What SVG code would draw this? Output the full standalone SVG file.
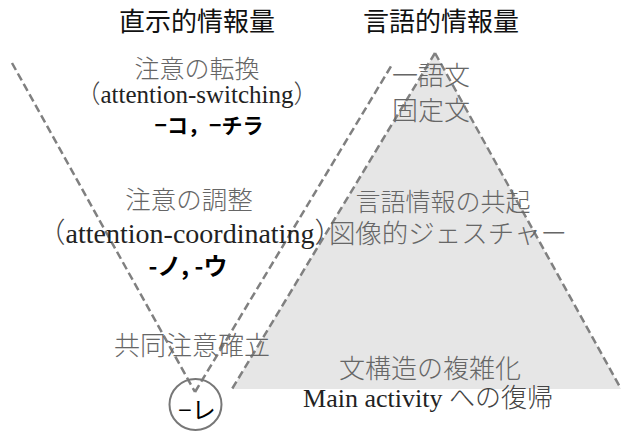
<svg xmlns="http://www.w3.org/2000/svg" width="622" height="432" viewBox="0 0 622 432">
  <style>
    .head { font-family: "Noto Sans CJK JP", sans-serif; font-size: 26px; fill: #111; text-anchor: middle; }
    .jp { font-family: "Noto Sans CJK JP", sans-serif; font-weight: 300; fill: #666; text-anchor: middle; }
    .lat { font-family: "Liberation Serif", "Times New Roman", "DejaVu Serif", serif; fill: #222; text-anchor: middle; }
    .par { font-family: "Noto Sans CJK JP", sans-serif; font-weight: 300; fill: #444; }
    .bold { font-family: "Noto Sans CJK JP", sans-serif; font-weight: bold; fill: #000; text-anchor: middle; }
    .dash { fill: none; stroke: #808080; stroke-width: 2.5; stroke-dasharray: 8 4; }
  </style>
  <rect width="622" height="432" fill="#fff"/>

  <g id="triangle">
    <polygon points="435,53 232,389 621,389" fill="#e6e6e6"/>
  </g>

  <g id="connectors">
    <line class="dash" x1="12" y1="63" x2="195" y2="392"/>
    <line class="dash" x1="195" y1="392" x2="393" y2="63"/>
    <line class="dash" x1="435" y1="53" x2="232" y2="389"/>
    <line class="dash" x1="435" y1="53" x2="621" y2="389"/>
  </g>

  <g id="headers">
    <text class="head" x="197" y="31">直示的情報量</text>
    <text class="head" x="441" y="31">言語的情報量</text>
  </g>

  <g id="switching">
    <text class="jp" x="197" y="78" font-size="25">注意の転換</text>
    <text class="lat" x="197" y="103" font-size="25"><tspan class="par">（</tspan>attention-switching<tspan class="par">）</tspan></text>
    <text class="bold" x="209" y="133" font-size="21">−コ，−チラ</text>
  </g>

  <g id="coordinating">
    <text class="jp" x="189" y="209" font-size="25.5">注意の調整</text>
    <text class="lat" x="190" y="243" font-size="28"><tspan class="par">（</tspan>attention-coordinating<tspan class="par">）</tspan></text>
    <text class="bold" x="188" y="275" font-size="24">-ノ, -ウ</text>
  </g>

  <g id="joint-attention">
    <text class="jp" x="192" y="355" font-size="26">共同注意確立</text>
  </g>

  <g id="re-node">
    <ellipse cx="195.5" cy="404.5" rx="26" ry="25.5" fill="none" stroke="#777" stroke-width="2"/>
    <text x="197" y="419" font-family="'Noto Sans CJK JP', sans-serif" font-size="24" fill="#000" text-anchor="middle">−レ</text>
  </g>

  <g id="one-word">
    <text class="jp" x="431" y="85" font-size="26">一語文</text>
    <text class="jp" x="431" y="120" font-size="26">固定文</text>
  </g>

  <g id="cooccurrence">
    <text class="jp" x="443" y="211" font-size="25">言語情報の共起</text>
    <text class="jp" x="448" y="243" font-size="26.5">図像的ジェスチャー</text>
  </g>

  <g id="complex">
    <text class="jp" x="430" y="378" font-size="26">文構造の複雑化</text>
    <text class="lat" x="428" y="407" font-size="26">Main activity <tspan class="par" fill="#222">への復帰</tspan></text>
  </g>
</svg>
